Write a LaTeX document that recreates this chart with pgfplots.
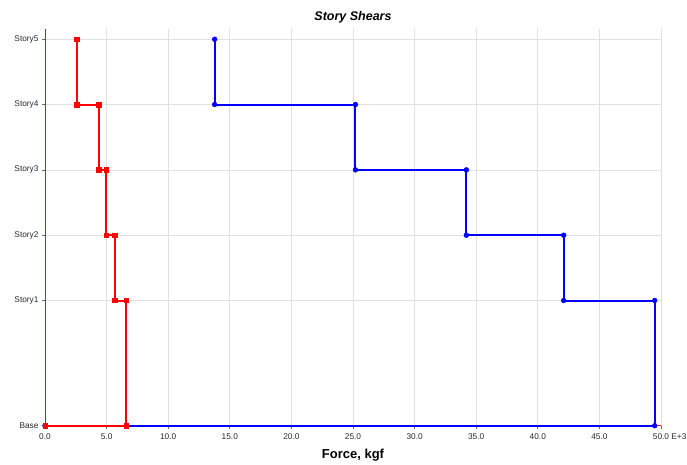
\documentclass[border=0pt]{standalone}
\usepackage{pgfplots}
\pgfplotsset{compat=1.18}
\usepackage{fontspec}
\setmainfont{Liberation Sans}
\definecolor{gridgray}{RGB}{224,224,224}
\definecolor{ticktext}{RGB}{40,40,40}
\begin{document}
\begin{tikzpicture}[x=1pt,y=1pt]
\begin{axis}[
  scale only axis,
  width=616pt, height=396.7pt,
  xmin=0, xmax=50, ymin=0, ymax=18.22,
  axis x line*=bottom, axis y line*=left,
  axis line style={draw=none},
  every outer x axis line/.append style={draw=none},
  every outer y axis line/.append style={draw=none},
  xtick={0,5,...,50},
  xticklabels={0.0,5.0,10.0,15.0,20.0,25.0,30.0,35.0,40.0,45.0,50.0\rlap{ E+3}},
  ytick={0,5.75,8.75,11.75,14.75,17.75},
  yticklabels={Base,Story1,Story2,Story3,Story4,Story5},
  tick label style={font=\fontsize{8.3}{9}\selectfont, text=ticktext},
  xticklabel style={yshift=-1.5pt},
  major tick style={draw=gray!80!black, line width=0.7pt},
  tick align=outside,
  major tick length=3pt,
  xmajorgrids, ymajorgrids,
  major grid style={draw=gridgray, line width=0.7pt},
  xlabel={\textbf{Force, kgf}},
  xlabel style={font=\fontsize{13}{15}\selectfont, yshift=-3pt},
  title={\textbf{\textit{Story Shears}}},
  title style={font=\fontsize{12.5}{14}\selectfont, yshift=-4pt},
  clip=false,
]
\addplot[red, line width=1pt, forget plot] coordinates {(0,18.22) (0,0) (50,0)};
\addplot[blue, line width=2pt, mark=*, mark size=2.4pt, mark options={fill=blue, line width=0.5pt}]
coordinates {
(0,0) (49.49,0) (49.49,5.75) (42.1,5.75) (42.1,8.75) (34.2,8.75) (34.2,11.75) (25.2,11.75) (25.2,14.75) (13.77,14.75) (13.77,17.75)
};
\addplot[red, line width=2pt, mark=square*, mark size=2.2pt, mark options={fill=red, line width=0.5pt}]
coordinates {
(0,0) (6.6,0) (6.6,5.75) (5.66,5.75) (5.66,8.75) (4.95,8.75) (4.95,11.75) (4.36,11.75) (4.36,14.75) (2.57,14.75) (2.57,17.75)
};
\end{axis}
\pgfresetboundingbox
\path ([xshift=-45pt,yshift=-38.3pt]current axis.south west) rectangle ([xshift=26pt,yshift=29pt]current axis.north east);
\end{tikzpicture}
\end{document}
